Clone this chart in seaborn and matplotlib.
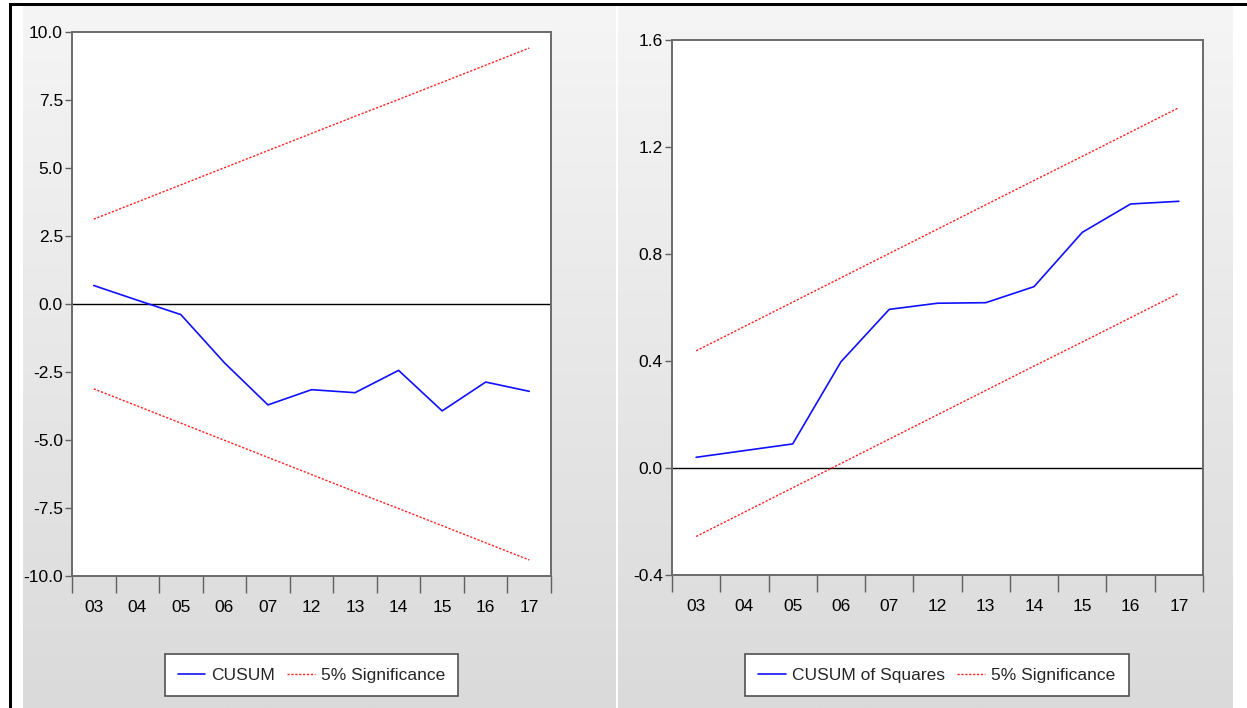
import numpy as np
import pandas as pd
import matplotlib
matplotlib.use("Agg")
import matplotlib.pyplot as plt
from matplotlib.patches import Rectangle
from matplotlib import font_manager
import seaborn as sns

# ---- data ----
periods = ["03", "04", "05", "06", "07", "12", "13", "14", "15", "16", "17"]

cusum = [0.68, 0.14, -0.39, -2.16, -3.71, -3.15, -3.26, -2.44, -3.93, -2.87, -3.21]
cusum_upper = [3.12, 3.75, 4.38, 5.01, 5.64, 6.27, 6.90, 7.52, 8.15, 8.78, 9.41]
cusum_lower = [-3.12, -3.75, -4.38, -5.01, -5.64, -6.27, -6.90, -7.52, -8.15, -8.78, -9.41]

cusumsq = [0.040, 0.065, 0.090, 0.397, 0.593, 0.616, 0.618, 0.678, 0.881, 0.987, 0.997]
cusumsq_upper = [0.438, 0.529, 0.620, 0.711, 0.802, 0.893, 0.984, 1.075, 1.165, 1.256, 1.347]
cusumsq_lower = [-0.256, -0.165, -0.074, 0.017, 0.108, 0.199, 0.290, 0.381, 0.471, 0.562, 0.653]

left_yticks = [-10.0, -7.5, -5.0, -2.5, 0.0, 2.5, 5.0, 7.5, 10.0]
right_yticks = [-0.4, 0.0, 0.4, 0.8, 1.2, 1.6]

sns.set_style("white")
installed = {f.name for f in font_manager.fontManager.ttflist}
families = [f for f in ["Liberation Sans Narrow", "Liberation Sans", "DejaVu Sans"] if f in installed]
plt.rcParams["font.family"] = families
plt.rcParams["font.stretch"] = "condensed"

W, H = 1247, 708
fig = plt.figure(figsize=(W / 100, H / 100), dpi=100)
fig.patch.set_facecolor("white")


def fx(px):
    return px / W


def fy(py):
    return 1 - py / H


def panel_background(x0, x1, y0, y1):
    bg = fig.add_axes([fx(x0), fy(y1), fx(x1 - x0), (y1 - y0) / H], zorder=0)
    grad = np.linspace(0, 1, 256).reshape(-1, 1)
    cmap = matplotlib.colors.LinearSegmentedColormap.from_list("g", ["#f5f5f5", "#dadada"])
    bg.imshow(grad, aspect="auto", cmap=cmap, extent=(0, 1, 0, 1), origin="upper")
    bg.set_axis_off()


panel_background(23, 616, 5, 708)
panel_background(618, 1233, 5, 708)

# outer frame lines
fig.add_artist(Rectangle((fx(9), fy(708)), fx(2.5), 705 / H, transform=fig.transFigure,
                         color="black", lw=0, zorder=5))
fig.add_artist(Rectangle((fx(9), fy(5.5)), 1 - fx(9), 2.5 / H, transform=fig.transFigure,
                         color="black", lw=0, zorder=5))

FS = 12.5
BLUE = "#1010ff"
RED = "#ff2020"
DOT = (0, (1.6, 1.2))


def draw_panel(box, values, upper, lower, label, ylim, yticks, yfmt, legend_center):
    x0, x1, top, bottom = box
    ax = fig.add_axes([fx(x0), fy(bottom), fx(x1 - x0), (bottom - top) / H], zorder=2)
    ax.set_facecolor("white")
    pos = np.arange(len(periods))
    df = pd.DataFrame({"pos": pos, "value": values, "upper": upper, "lower": lower})

    ax.axhline(0, color="black", lw=1.0, zorder=1)
    sns.lineplot(data=df, x="pos", y="value", ax=ax, color=BLUE, lw=1.2, label=label, zorder=3)
    sns.lineplot(data=df, x="pos", y="upper", ax=ax, color=RED, lw=1.0, linestyle=DOT,
                 label="5% Significance", zorder=3)
    sns.lineplot(data=df, x="pos", y="lower", ax=ax, color=RED, lw=1.0, linestyle=DOT,
                 legend=False, zorder=3)

    ax.set_xlim(-0.5, len(periods) - 0.5)
    ax.set_ylim(*ylim)
    ax.set_xlabel("")
    ax.set_ylabel("")

    # category boundaries as major ticks, labels on minor ticks at centres
    ax.set_xticks(np.arange(-0.5, len(periods), 1.0))
    ax.set_xticklabels([])
    ax.set_xticks(pos, minor=True)
    ax.set_xticklabels(periods, minor=True, fontsize=FS)
    ax.tick_params(axis="x", which="major", direction="out", length=12, width=1.0,
                   color="#606060", bottom=True)
    ax.tick_params(axis="x", which="minor", length=0, pad=17, labelcolor="black", bottom=True)

    ax.set_yticks(yticks)
    ax.set_yticklabels([yfmt.format(v) for v in yticks], fontsize=FS)
    ax.tick_params(axis="y", direction="out", length=5, width=1.0, color="#606060",
                   pad=1.5, left=True, labelcolor="black")

    for side, sp in ax.spines.items():
        sp.set_visible(True)
        sp.set_linewidth(1.4)
        sp.set_color("#6a6a6a")

    handles = ax.lines[1:3]
    ax.get_legend().remove()
    leg = ax.legend(handles=handles, labels=[label, "5% Significance"], loc="center",
                    bbox_to_anchor=(fx(legend_center[0]), fy(legend_center[1])),
                    bbox_transform=fig.transFigure, ncol=2, frameon=True, fancybox=False,
                    edgecolor="#505050", framealpha=1.0, fontsize=FS, handlelength=1.6,
                    handletextpad=0.35, columnspacing=0.7, borderpad=0.75,
                    borderaxespad=0.0)
    leg.get_frame().set_linewidth(1.2)
    return ax


draw_panel((72, 551, 32, 576), cusum, cusum_upper, cusum_lower, "CUSUM",
           (-10.0, 10.0), left_yticks, "{:.1f}", (311.5, 675))
draw_panel((672, 1203, 40, 575), cusumsq, cusumsq_upper, cusumsq_lower, "CUSUM of Squares",
           (-0.4, 1.6), right_yticks, "{:.1f}", (937, 675))

fig.savefig("out.png", dpi=100)
